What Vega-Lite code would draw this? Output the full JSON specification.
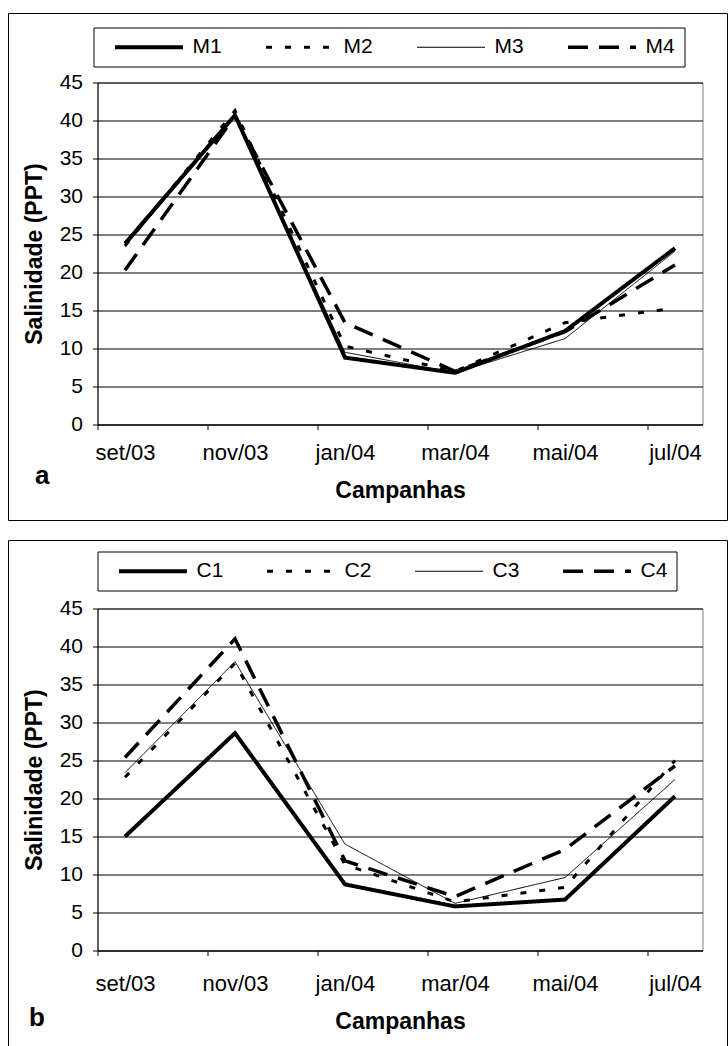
{
  "$schema": "https://vega.github.io/schema/vega-lite/v6.json",
  "padding": {"left": 7.5, "top": 11.5, "right": 0, "bottom": 0},
  "spacing": 18,
  "background": "white",
  "resolve": {
    "scale": {"strokeDash": "independent", "strokeWidth": "independent", "x": "independent", "y": "independent"},
    "legend": {"strokeDash": "independent", "strokeWidth": "independent"}
  },
  "config": {
    "font": "Liberation Sans",
    "view": {"stroke": "#808080", "strokeWidth": 1},
    "axis": {
      "domainColor": "black", "tickColor": "black", "labelColor": "black", "titleColor": "black",
      "labelFont": "Liberation Sans", "labelFontSize": 21,
      "titleFont": "Liberation Sans", "titleFontSize": 21, "titleFontWeight": "bold",
      "tickSize": 5, "domainWidth": 1, "tickWidth": 1
    },
    "legend": {"labelFont": "Liberation Sans", "labelColor": "black"},
    "title": {"color": "black", "font": "Liberation Sans"}
  },
  "datasets": {
    "salinidade_a": [
      {"serie": "M1", "campanha": "set/03", "mes": 0, "salinidade": 23.8},
      {"serie": "M1", "campanha": "nov/03", "mes": 2, "salinidade": 40.7},
      {"serie": "M1", "campanha": "jan/04", "mes": 4, "salinidade": 8.8},
      {"serie": "M1", "campanha": "mar/04", "mes": 6, "salinidade": 6.8},
      {"serie": "M1", "campanha": "mai/04", "mes": 8, "salinidade": 12.3},
      {"serie": "M1", "campanha": "jul/04", "mes": 10, "salinidade": 23.2},
      {"serie": "M2", "campanha": "set/03", "mes": 0, "salinidade": 23.5},
      {"serie": "M2", "campanha": "nov/03", "mes": 2, "salinidade": 41.3},
      {"serie": "M2", "campanha": "jan/04", "mes": 4, "salinidade": 10.3},
      {"serie": "M2", "campanha": "mar/04", "mes": 6, "salinidade": 7.0},
      {"serie": "M2", "campanha": "mai/04", "mes": 8, "salinidade": 13.4},
      {"serie": "M2", "campanha": "jul/04", "mes": 10, "salinidade": 15.3},
      {"serie": "M3", "campanha": "set/03", "mes": 0, "salinidade": 23.4},
      {"serie": "M3", "campanha": "nov/03", "mes": 2, "salinidade": 40.6},
      {"serie": "M3", "campanha": "jan/04", "mes": 4, "salinidade": 9.5},
      {"serie": "M3", "campanha": "mar/04", "mes": 6, "salinidade": 6.8},
      {"serie": "M3", "campanha": "mai/04", "mes": 8, "salinidade": 11.3},
      {"serie": "M3", "campanha": "jul/04", "mes": 10, "salinidade": 22.8},
      {"serie": "M4", "campanha": "set/03", "mes": 0, "salinidade": 20.3},
      {"serie": "M4", "campanha": "nov/03", "mes": 2, "salinidade": 40.6},
      {"serie": "M4", "campanha": "jan/04", "mes": 4, "salinidade": 13.4},
      {"serie": "M4", "campanha": "mar/04", "mes": 6, "salinidade": 7.0},
      {"serie": "M4", "campanha": "mai/04", "mes": 8, "salinidade": 12.2},
      {"serie": "M4", "campanha": "jul/04", "mes": 10, "salinidade": 21.0}
    ],
    "salinidade_b": [
      {"serie": "C1", "campanha": "set/03", "mes": 0, "salinidade": 15.0},
      {"serie": "C1", "campanha": "nov/03", "mes": 2, "salinidade": 28.6},
      {"serie": "C1", "campanha": "jan/04", "mes": 4, "salinidade": 8.7},
      {"serie": "C1", "campanha": "mar/04", "mes": 6, "salinidade": 5.8},
      {"serie": "C1", "campanha": "mai/04", "mes": 8, "salinidade": 6.7},
      {"serie": "C1", "campanha": "jul/04", "mes": 10, "salinidade": 20.3},
      {"serie": "C2", "campanha": "set/03", "mes": 0, "salinidade": 22.8},
      {"serie": "C2", "campanha": "nov/03", "mes": 2, "salinidade": 37.8},
      {"serie": "C2", "campanha": "jan/04", "mes": 4, "salinidade": 11.3},
      {"serie": "C2", "campanha": "mar/04", "mes": 6, "salinidade": 6.4},
      {"serie": "C2", "campanha": "mai/04", "mes": 8, "salinidade": 8.3},
      {"serie": "C2", "campanha": "jul/04", "mes": 10, "salinidade": 25.0},
      {"serie": "C3", "campanha": "set/03", "mes": 0, "salinidade": 23.4},
      {"serie": "C3", "campanha": "nov/03", "mes": 2, "salinidade": 38.0},
      {"serie": "C3", "campanha": "jan/04", "mes": 4, "salinidade": 14.0},
      {"serie": "C3", "campanha": "mar/04", "mes": 6, "salinidade": 6.2},
      {"serie": "C3", "campanha": "mai/04", "mes": 8, "salinidade": 9.6},
      {"serie": "C3", "campanha": "jul/04", "mes": 10, "salinidade": 22.5},
      {"serie": "C4", "campanha": "set/03", "mes": 0, "salinidade": 25.4},
      {"serie": "C4", "campanha": "nov/03", "mes": 2, "salinidade": 41.0},
      {"serie": "C4", "campanha": "jan/04", "mes": 4, "salinidade": 11.8},
      {"serie": "C4", "campanha": "mar/04", "mes": 6, "salinidade": 7.1},
      {"serie": "C4", "campanha": "mai/04", "mes": 8, "salinidade": 13.3},
      {"serie": "C4", "campanha": "jul/04", "mes": 10, "salinidade": 24.3}
    ]
  },
  "vconcat": [
    {
      "width": 605,
      "height": 342,
      "title": {"text": "a", "orient": "bottom", "anchor": "start", "frame": "bounds", "fontSize": 26, "fontWeight": "bold", "baseline": "alphabetic", "offset": -37, "dx": 27},
      "layer": [
        {
          "data": {"name": "salinidade_a"},
          "mark": {"type": "line", "color": "black", "strokeCap": "butt"},
          "encoding": {
            "x": {
              "field": "mes", "type": "quantitative",
              "scale": {"domain": [-0.5, 10.5], "nice": false, "zero": false},
              "axis": {"title": "Campanhas", "values": [-0.5, 1.5, 3.5, 5.5, 7.5, 9.5],
                "labelExpr": "['set/03','nov/03','jan/04','mar/04','mai/04','jul/04'][(datum.value+0.5)/2]",
                "labelOffset": 27.5, "labelFlush": false, "labelOverlap": false, "labelBound": false,
                "labelFontSize": 22, "labelPadding": 13, "titlePadding": 16, "titleFontSize": 23, "grid": false}
            },
            "y": {
              "field": "salinidade", "type": "quantitative",
              "scale": {"domain": [0, 45], "nice": false},
              "axis": {"title": "Salinidade (PPT)", "values": [0, 5, 10, 15, 20, 25, 30, 35, 40, 45],
                "grid": true, "gridColor": "black", "gridWidth": 1, "labelPadding": 10, "titlePadding": 13, "titleFontSize": 23}
            },
            "strokeDash": {
              "field": "serie", "type": "nominal",
              "scale": {"domain": ["M1", "M2", "M3", "M4"], "range": [[1, 0], [6, 13], [1, 0], [20, 11]]},
              "legend": {"orient": "none", "legendX": -4, "legendY": -55, "direction": "horizontal", "columns": 4, "title": null,
                "symbolType": "M-4,0H4", "symbolSize": 289, "symbolStrokeColor": "black", "labelFontSize": 21, "labelOffset": 33,
                "columnPadding": 31, "gridAlign": "all", "padding": 9, "strokeColor": "black", "symbolOffset": 36}
            },
            "strokeWidth": {
              "field": "serie", "type": "nominal",
              "scale": {"type": "ordinal", "domain": ["M1", "M2", "M3", "M4"], "range": [4, 3, 1, 3.5]},
              "legend": {"orient": "none", "legendX": -4, "legendY": -55, "direction": "horizontal", "columns": 4, "title": null,
                "symbolType": "M-4,0H4", "symbolSize": 289, "symbolStrokeColor": "black", "labelFontSize": 21, "labelOffset": 33,
                "columnPadding": 31, "gridAlign": "all", "padding": 9, "strokeColor": "black", "symbolOffset": 36}
            }
          }
        },
        {
          "data": {"values": [{}]},
          "mark": {"type": "rect", "filled": false, "stroke": "black", "strokeWidth": 1},
          "encoding": {
            "x": {"datum": -2.118, "type": "quantitative",
              "axis": {"title": "Campanhas", "values": [-0.5, 1.5, 3.5, 5.5, 7.5, 9.5],
                "labelExpr": "['set/03','nov/03','jan/04','mar/04','mai/04','jul/04'][(datum.value+0.5)/2]",
                "labelOffset": 27.5, "labelFlush": false, "labelOverlap": false, "labelBound": false,
                "labelFontSize": 22, "labelPadding": 13, "titlePadding": 16, "titleFontSize": 23, "grid": false}},
            "x2": {"datum": 10.955},
            "y": {"datum": 54.079, "type": "quantitative",
              "axis": {"title": "Salinidade (PPT)", "values": [0, 5, 10, 15, 20, 25, 30, 35, 40, 45],
                "grid": true, "gridColor": "black", "gridWidth": 1, "labelPadding": 10, "titlePadding": 13, "titleFontSize": 23}},
            "y2": {"datum": -12.63}
          }
        }
      ]
    },
    {
      "width": 605,
      "height": 342,
      "title": {"text": "b", "orient": "bottom", "anchor": "start", "frame": "bounds", "fontSize": 26, "fontWeight": "bold", "baseline": "alphabetic", "offset": -22, "dx": 21},
      "layer": [
        {
          "data": {"name": "salinidade_b"},
          "mark": {"type": "line", "color": "black", "strokeCap": "butt"},
          "encoding": {
            "x": {
              "field": "mes", "type": "quantitative",
              "scale": {"domain": [-0.5, 10.5], "nice": false, "zero": false},
              "axis": {"title": "Campanhas", "values": [-0.5, 1.5, 3.5, 5.5, 7.5, 9.5],
                "labelExpr": "['set/03','nov/03','jan/04','mar/04','mai/04','jul/04'][(datum.value+0.5)/2]",
                "labelOffset": 27.5, "labelFlush": false, "labelOverlap": false, "labelBound": false,
                "labelFontSize": 22, "labelPadding": 18, "titlePadding": 16, "titleFontSize": 23, "grid": false}
            },
            "y": {
              "field": "salinidade", "type": "quantitative",
              "scale": {"domain": [0, 45], "nice": false},
              "axis": {"title": "Salinidade (PPT)", "values": [0, 5, 10, 15, 20, 25, 30, 35, 40, 45],
                "grid": true, "gridColor": "black", "gridWidth": 1, "labelPadding": 10, "titlePadding": 13, "titleFontSize": 23}
            },
            "strokeDash": {
              "field": "serie", "type": "nominal",
              "scale": {"domain": ["C1", "C2", "C3", "C4"], "range": [[1, 0], [6, 13], [1, 0], [20, 11]]},
              "legend": {"orient": "none", "legendX": 0, "legendY": -57, "direction": "horizontal", "columns": 4, "title": null,
                "symbolType": "M-4,0H4", "symbolSize": 289, "symbolStrokeColor": "black", "labelFontSize": 21, "labelOffset": 33,
                "columnPadding": 31, "gridAlign": "all", "padding": 9, "strokeColor": "black", "symbolOffset": 36}
            },
            "strokeWidth": {
              "field": "serie", "type": "nominal",
              "scale": {"type": "ordinal", "domain": ["C1", "C2", "C3", "C4"], "range": [4, 3, 1, 3.5]},
              "legend": {"orient": "none", "legendX": 0, "legendY": -57, "direction": "horizontal", "columns": 4, "title": null,
                "symbolType": "M-4,0H4", "symbolSize": 289, "symbolStrokeColor": "black", "labelFontSize": 21, "labelOffset": 33,
                "columnPadding": 31, "gridAlign": "all", "padding": 9, "strokeColor": "black", "symbolOffset": 36}
            }
          }
        },
        {
          "data": {"values": [{}]},
          "mark": {"type": "rect", "filled": false, "stroke": "black", "strokeWidth": 1},
          "encoding": {
            "x": {"datum": -2.118, "type": "quantitative",
              "axis": {"title": "Campanhas", "values": [-0.5, 1.5, 3.5, 5.5, 7.5, 9.5],
                "labelExpr": "['set/03','nov/03','jan/04','mar/04','mai/04','jul/04'][(datum.value+0.5)/2]",
                "labelOffset": 27.5, "labelFlush": false, "labelOverlap": false, "labelBound": false,
                "labelFontSize": 22, "labelPadding": 18, "titlePadding": 16, "titleFontSize": 23, "grid": false}},
            "x2": {"datum": 10.955},
            "y": {"datum": 53.947, "type": "quantitative",
              "axis": {"title": "Salinidade (PPT)", "values": [0, 5, 10, 15, 20, 25, 30, 35, 40, 45],
                "grid": true, "gridColor": "black", "gridWidth": 1, "labelPadding": 10, "titlePadding": 13, "titleFontSize": 23}},
            "y2": {"datum": -12.763}
          }
        }
      ]
    }
  ]
}
